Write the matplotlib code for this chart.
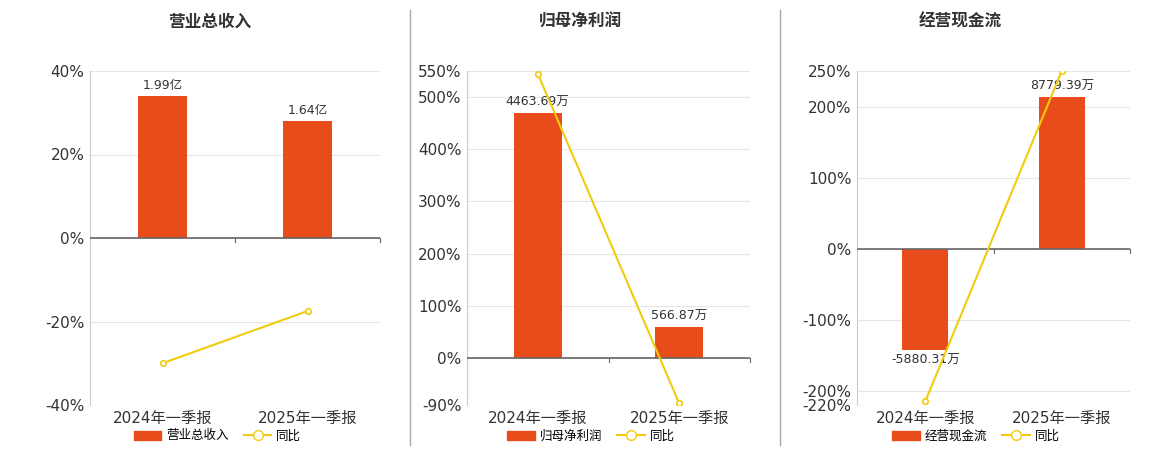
import matplotlib
matplotlib.use("Agg")
import matplotlib.pyplot as plt
from matplotlib.lines import Line2D
from matplotlib.patches import Patch

plt.rcParams['font.family'] = ['DejaVu Sans', 'Noto Sans CJK SC']

categories = ["2024年一季报", "2025年一季报"]
titles = ["营业总收入", "归母净利润", "经营现金流"]
bar_values = [[19900, 16400], [4463.69, 566.87], [-5880.31, 8779.39]]
bar_labels = [["1.99亿", "1.64亿"], ["4463.69万", "566.87万"], ["-5880.31万", "8779.39万"]]
yoy = [[-30.0, -17.5], [545.0, -87.0], [-215.0, 250.0]]
ylims = [(-40, 40), (-90, 550), (-220, 250)]
yticks = [[-40, -20, 0, 20, 40], [-90, 0, 100, 200, 300, 400, 500, 550],
          [-220, -200, -100, 0, 100, 200, 250]]
bar_pct = [34.0, 469.5, 213.0]
bar_ref = [19900, 4463.69, 8779.39]

BAR = "#e84c1b"
LINE = "#f2cc0c"

fig = plt.figure(figsize=(11.6, 4.5), dpi=100)
W, H = 1160, 450
axes_x = [(90, 380), (467, 750), (857, 1130)]
top, bottom = 71, 405
title_x = [210, 580, 960]

for i in range(3):
    x0, x1 = axes_x[i]
    ax = fig.add_axes([x0 / W, 1 - bottom / H, (x1 - x0) / W, (bottom - top) / H])
    k = bar_pct[i] / bar_ref[i]
    bx = ax.twinx()
    bx.set_ylim(ylims[i][0] / k, ylims[i][1] / k)
    bx.set_zorder(1)
    ax.set_zorder(2)
    ax.patch.set_visible(False)
    for t in yticks[i]:
        bx.axhline(t / k, color='#e6e6e6', lw=0.8, zorder=0)
    bx.bar(range(2), bar_values[i], width=0.34, color=BAR, zorder=2)
    span = (ylims[i][1] - ylims[i][0]) / k
    for j, v in enumerate(bar_values[i]):
        off = 0.012 * span
        bx.text(j, v + off if v >= 0 else v - off, bar_labels[i][j],
                ha='center', va='bottom' if v >= 0 else 'top', fontsize=9, color='#333333')
    bx.set_yticks([])
    for s in bx.spines.values():
        s.set_visible(False)
    ax.plot(range(2), yoy[i], color=LINE, lw=1.5, marker='o', ms=4,
            mfc='white', mec=LINE, mew=1.2, zorder=5)
    ax.set_ylim(*ylims[i])
    ax.set_xlim(-0.5, 1.5)
    ax.set_yticks(yticks[i])
    ax.set_yticklabels([f"{t}%" for t in yticks[i]], fontsize=11, color='#333333')
    ax.set_xticks(range(2))
    ax.set_xticklabels(categories, fontsize=11, color='#333333')
    ax.tick_params(axis='x', length=0, pad=4)
    ax.tick_params(axis='y', length=0, pad=4)
    for s in ['top', 'right', 'bottom']:
        ax.spines[s].set_visible(False)
    ax.spines['left'].set_color('#cccccc')
    ax.axhline(0, color='#666666', lw=1.2, zorder=3)
    for xt in [0.5, 1.5]:
        ax.plot([xt, xt], [0, -(ylims[i][1] - ylims[i][0]) * 0.012], color='#666666', lw=0.8, clip_on=False)
    fig.text(title_x[i] / W, 1 - 22 / H, titles[i], ha='center', va='center',
             fontsize=12, fontweight='bold', color='#333333', family=['Noto Sans CJK SC'])
    handles = [Patch(color=BAR), Line2D([0], [0], color=LINE, marker='o', mfc='white', mec=LINE, ms=7, lw=1.5)]
    fig.legend(handles, [titles[i], "同比"], loc='center', bbox_to_anchor=((x0 + x1) / 2 / W - 0.015, 1 - 436 / H),
               ncol=2, frameon=False, fontsize=9, handlelength=2.2, columnspacing=1.2, handletextpad=0.4)

for xs in [410, 780]:
    fig.add_artist(Line2D([xs / W, xs / W], [1 - 445 / H, 1 - 10 / H], color='#aaaaaa', lw=1))

fig.savefig("out.png", dpi=100)
